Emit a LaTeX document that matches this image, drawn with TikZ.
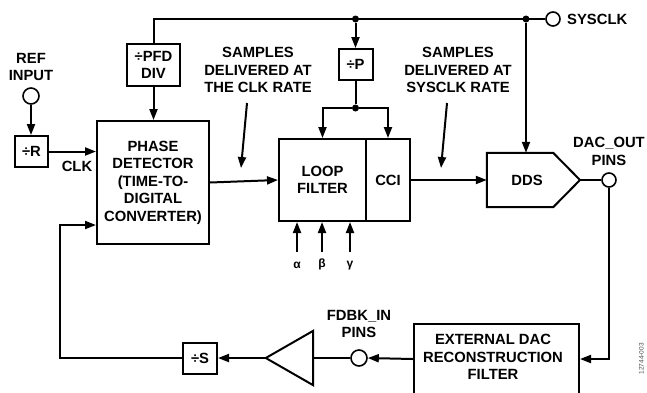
\documentclass[tikz,border=0pt]{standalone}
\usepackage{fontspec}
\setmainfont{Liberation Sans}
\usetikzlibrary{arrows.meta,calc}
\begin{document}
\begin{tikzpicture}[x=1pt,y=-1pt,
  every node/.style={font=\bfseries\fontsize{14.8}{17.5}\selectfont, align=center, inner sep=0pt},
  ln/.style={line width=2pt},
  arr/.style={line width=2pt, -{Triangle[length=11pt,width=8pt]}},
  blk/.style={draw, line width=2pt},
  pin/.style={draw, circle, line width=1.6pt, fill=white},
  dot/.style={circle, fill, minimum size=7pt}]
\useasboundingbox (0,0) rectangle (647,392);

% blocks
\node[blk, minimum width=53pt, minimum height=42pt] (pfd) at (153.5,65) {÷PFD\\DIV};
\node[blk, minimum width=112pt, minimum height=123pt] (pd) at (153,182.5) {PHASE\\DETECTOR\\(TIME-TO-\\DIGITAL\\CONVERTER)};
\node (reflbl) at (31,67) {REF\\INPUT};
\node[pin, minimum size=16pt] (refc) at (31,96) {};
\node[blk, minimum width=33pt, minimum height=31pt] (divr) at (31.5,151.5) {÷R};
\node (clk) at (77,166) {CLK};
\node[blk, minimum width=87pt, minimum height=82pt] (lf) at (322.5,180) {LOOP\\FILTER};
\node[blk, minimum width=44pt, minimum height=82pt] (cci) at (388,180) {CCI};
\node[blk, minimum width=34pt, minimum height=31pt] (divp) at (355.5,64.5) {÷P};
\node[dot] (d1) at (355.5,19) {};
\node[dot] (d2) at (526,19) {};
\node[dot] (d3) at (355.5,108) {};
\node[pin, minimum size=14pt] (sysc) at (553,19) {};
\node[anchor=west] (syslbl) at (567,19) {SYSCLK};

% DDS
\node[minimum width=66pt, minimum height=54pt] (ddsbody) at (520,180) {};
\coordinate (ddstip) at (580,180);
\draw[ln] (ddsbody.north west) -- (ddsbody.north east) -- (ddstip) -- (ddsbody.south east) -- (ddsbody.south west) -- cycle;
\node (dds) at (527,180) {DDS};
\node[pin, minimum size=14pt] (dacc) at (609,180) {};
\node (daclbl) at (609,151.5) {DAC\_OUT\\PINS};

% samples labels
\node (s1) at (258,70) {SAMPLES\\DELIVERED AT\\THE CLK RATE};
\node (s2) at (458,70) {SAMPLES\\DELIVERED AT\\SYSCLK RATE};
\coordinate (s1a) at (247,103); \coordinate (s1b) at (241,168);
\coordinate (s2a) at (447,103); \coordinate (s2b) at (441,168);

% bottom row
\node[blk, minimum width=165pt, minimum height=70pt, anchor=north west] (filt) at (413,323) {};
\node (filtlbl) at (493,357) {EXTERNAL DAC\\RECONSTRUCTION\\FILTER};
\node[pin, minimum size=16pt] (fbc) at (359,358) {};
\node (fblbl) at (359,324) {FDBK\_IN\\PINS};
\node[minimum width=47pt, minimum height=54pt] (amp) at (289.5,358) {};
\draw[ln, line join=miter] (amp.north east) -- (amp.west) -- (amp.south east) -- cycle;
\node[blk, minimum width=34pt, minimum height=31pt] (divs) at (200,358) {÷S};
\coordinate (fbcorner) at (60,358);
\coordinate (fbtop) at (60,225);

% coefficients
\node[font=\bfseries\fontsize{12}{14}\selectfont] (alpha) at (297,265) {α};
\node[font=\bfseries\fontsize{12}{14}\selectfont] (beta) at (322,264) {β};
\node[font=\bfseries\fontsize{12}{14}\selectfont] (gamma) at (350,266) {γ};
\coordinate (a0) at (297,252);
\coordinate (b0) at (322,252);
\coordinate (g0) at (350,252);

\node[rotate=90, anchor=north east, font=\fontsize{6.5}{7}\selectfont, text=black!70] (code) at (639,343) {12744-003};

% connectors
\draw[ln] (pfd.north) |- (sysc.west);
\draw[arr] (pfd.south) -- (pfd.south |- pd.north);
\draw[arr] (refc.south) -- (refc.south |- divr.north);
\draw[arr] (divr.east) -- (divr.east -| pd.west);
\draw[arr] (pd.east) -- (lf.west);
\draw[arr] (d1) -- (divp.north);
\draw[ln] (divp.south) -- (d3);
\draw[arr] (d3) -| (lf.north);
\draw[arr] (d3) -| (cci.north);
\draw[arr] (cci.east) -- (ddsbody.west);
\draw[arr] (d2) -- (d2 |- ddsbody.north);
\draw[ln] (ddstip) -- (dacc.west);
\draw[arr] (dacc.south) |- (filt.east);
\draw[arr] (filt.west) -- (fbc.east);
\draw[ln] (fbc.west) -- (amp.east);
\draw[arr] (amp.west) -- (divs.east);
\draw[arr] (divs.west) -- (fbcorner) -- (fbtop) -- (fbtop -| pd.west);
\draw[arr] (s1a) -- (s1b);
\draw[arr] (s2a) -- (s2b);
\draw[arr] (a0) -- (a0 |- lf.south);
\draw[arr] (b0) -- (b0 |- lf.south);
\draw[arr] (g0) -- (g0 |- lf.south);
\end{tikzpicture}
\end{document}
